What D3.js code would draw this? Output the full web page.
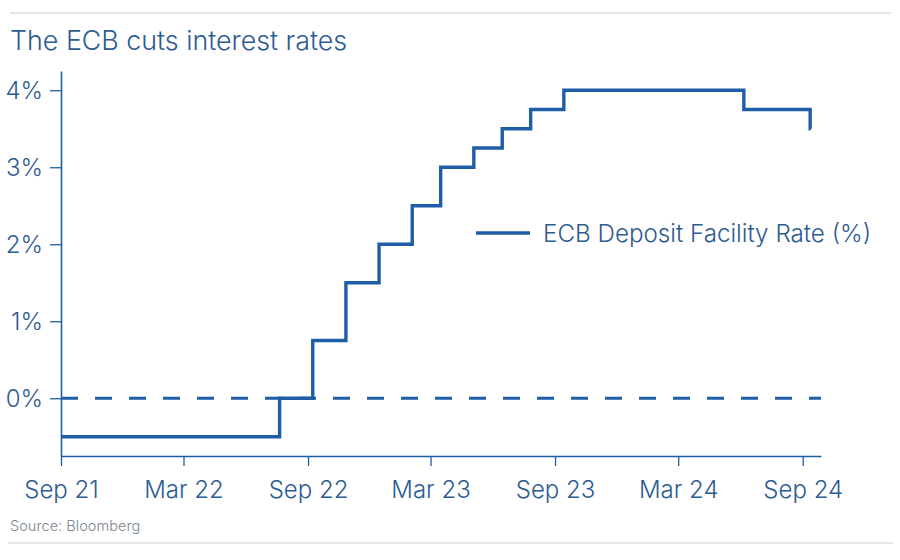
<!DOCTYPE html>
<html>
<head>
<meta charset="utf-8">
<script src="https://cdn.jsdelivr.net/npm/d3@7"></script>
<style>
  body { margin: 0; background: #fff; }
  svg { display: block; font-family: Inter, "Noto Sans", sans-serif; font-weight: 300; }
</style>
</head>
<body>
<svg id="chart" width="900" height="560"></svg>
<script>
// ECB deposit facility rate, by decision date
var rateDates = ["2021-09-01", "2022-07-21", "2022-09-08", "2022-10-27", "2022-12-15",
                 "2023-02-02", "2023-03-16", "2023-05-04", "2023-06-15", "2023-07-27",
                 "2023-09-14", "2024-06-06", "2024-09-12", "2024-09-13"];
var rateValues = [-0.5, 0, 0.75, 1.5, 2, 2.5, 3, 3.25, 3.5, 3.75, 4, 3.75, 3.5, 3.5];

var tickDates = ["2021-09-01", "2022-03-01", "2022-09-01", "2023-03-01",
                 "2023-09-01", "2024-03-01", "2024-09-01"];
var yTicks = [0, 1, 2, 3, 4];

var title = "The ECB cuts interest rates";
var seriesName = "ECB Deposit Facility Rate (%)";
var source = "Source: Bloomberg";

var blue = "#1f5ea6";
var textBlue = "#2d5b93";
var fontStack = "Inter, 'Noto Sans', sans-serif";

var parse = d3.timeParse("%Y-%m-%d");
var data = rateDates.map(function (d, i) { return { date: parse(d), value: rateValues[i] }; });

var svg = d3.select("#chart");

var x = d3.scaleTime()
    .domain([parse("2021-09-01"), parse("2024-09-28")])
    .range([61, 821]);
var y = d3.scaleLinear()
    .domain([-0.75, 4.25])
    .range([456, 71]);

// frame rules
svg.append("line").attr("x1", 10).attr("x2", 891).attr("y1", 13).attr("y2", 13)
    .attr("stroke", "#dcdcdc").attr("stroke-width", 1.5);
svg.append("line").attr("x1", 8).attr("x2", 893).attr("y1", 543).attr("y2", 543)
    .attr("stroke", "#dcdcdc").attr("stroke-width", 1.5);

svg.append("text")
    .attr("x", 10).attr("y", 49.5)
    .attr("fill", textBlue)
    .attr("font-size", 26.8)
    .text(title);

// y axis
var yAxis = svg.append("g")
    .attr("transform", "translate(" + x.range()[0] + ",0)")
    .call(d3.axisLeft(y).tickValues(yTicks).tickSize(11).tickSizeOuter(0)
        .tickFormat(function (d) { return d + "%"; }));
yAxis.select(".domain").attr("stroke", blue).attr("stroke-width", 1.6);
yAxis.selectAll(".tick line").attr("stroke", blue).attr("stroke-width", 1.3);
yAxis.selectAll(".tick text")
    .attr("x", -18).attr("dy", "0.36em")
    .attr("fill", textBlue).attr("font-size", 24)
    .attr("font-family", fontStack).attr("font-weight", 300);

// x axis
var xAxis = svg.append("g")
    .attr("transform", "translate(0," + y.range()[0] + ")")
    .call(d3.axisBottom(x).tickValues(tickDates.map(parse)).tickSize(10).tickSizeOuter(0)
        .tickFormat(d3.timeFormat("%b %y")));
xAxis.select(".domain").attr("stroke", blue).attr("stroke-width", 1.6);
xAxis.selectAll(".tick line").attr("stroke", blue).attr("stroke-width", 1.3);
xAxis.selectAll(".tick text")
    .attr("y", 25).attr("dy", "0.71em")
    .attr("fill", textBlue).attr("font-size", 24)
    .attr("font-family", fontStack).attr("font-weight", 300);

// zero line
svg.append("line")
    .attr("x1", x.range()[0]).attr("x2", x.range()[1])
    .attr("y1", y(0)).attr("y2", y(0))
    .attr("stroke", blue).attr("stroke-width", 3)
    .attr("stroke-dasharray", "17 17");

// series
var line = d3.line()
    .x(function (d) { return x(d.date); })
    .y(function (d) { return y(d.value); })
    .curve(d3.curveStepAfter);

svg.append("path")
    .datum(data)
    .attr("fill", "none")
    .attr("stroke", blue)
    .attr("stroke-width", 3.4)
    .attr("d", line);

// legend
var legend = svg.append("g").attr("transform", "translate(476,233)");
legend.append("line").attr("x1", 0).attr("x2", 54)
    .attr("stroke", blue).attr("stroke-width", 3.4);
legend.append("text")
    .attr("x", 67).attr("y", 0).attr("dy", "0.36em")
    .attr("fill", textBlue).attr("font-size", 24.2)
    .text(seriesName);

svg.append("text")
    .attr("x", 10).attr("y", 531)
    .attr("fill", "#7d8792")
    .attr("font-size", 14.6)
    .text(source);
</script>
</body>
</html>
